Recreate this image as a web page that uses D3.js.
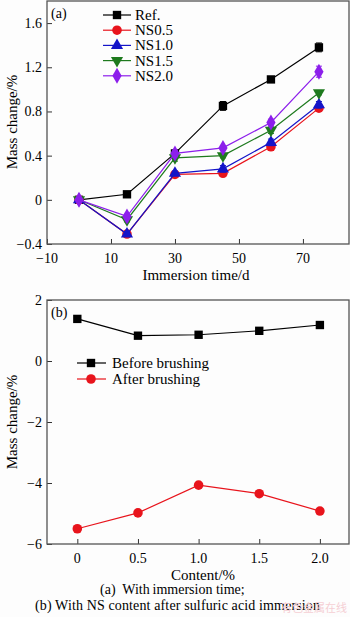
<!DOCTYPE html>
<html>
<head>
<meta charset="utf-8">
<script src="https://cdn.jsdelivr.net/npm/d3@7"></script>
<style>
  body { margin: 0; background: #fdfdfd; }
  svg { display: block; font-family: "Liberation Serif", "Times New Roman", serif; }
</style>
</head>
<body>
<div id="chart"></div>
<script>
/* two-panel mass change chart */

const width = 350, height = 617;

// panel (a) data
const days = [0, 15, 30, 45, 60, 75];
const seriesA = ["Ref.", "NS0.5", "NS1.0", "NS1.5", "NS2.0"];
const refVals = [0, 0.05, 0.42, 0.85, 1.09, 1.38];
const ns05Vals = [0, -0.31, 0.23, 0.24, 0.48, 0.83];
const ns10Vals = [0, -0.31, 0.24, 0.28, 0.52, 0.86];
const ns15Vals = [0, -0.18, 0.38, 0.40, 0.63, 0.97];
const ns20Vals = [0, -0.15, 0.42, 0.47, 0.70, 1.16];
const refErr = [0, 0.02, 0.03, 0.04, 0.02, 0.04];
const ns05Err = [0, 0.02, 0.02, 0.02, 0.03, 0.03];
const ns10Err = [0, 0.02, 0.02, 0.03, 0.03, 0.03];
const ns15Err = [0, 0.02, 0.03, 0.02, 0.03, 0.02];
const ns20Err = [0, 0.02, 0.03, 0.02, 0.03, 0.05];
const xTicksA = [-10, 10, 30, 50, 70];
const yTicksA = [-0.4, 0, 0.4, 0.8, 1.2, 1.6];

// panel (b) data
const contents = [0, 0.5, 1.0, 1.5, 2.0];
const seriesB = ["Before brushing", "After brushing"];
const beforeVals = [1.38, 0.83, 0.86, 0.99, 1.18];
const afterVals = [-5.5, -4.98, -4.07, -4.35, -4.92];
const xTicksB = [0, 0.5, 1.0, 1.5, 2.0];
const yTicksB = [-6, -4, -2, 0, 2];

const svg = d3.select("#chart")
  .append("svg")
  .attr("width", width)
  .attr("height", height);

// marker shapes
const sym = {
  square: d3.symbol().type(d3.symbolSquare).size(70),
  circle: d3.symbol().type(d3.symbolCircle).size(72),
  up: d3.symbol().type(d3.symbolTriangle).size(64),
  diamond: d3.symbol().type(d3.symbolDiamond).size(74)
};

function drawFrame(g, x, y, xTicks, yTicks, xFmt, yFmt) {
  const [x0, x1] = x.range(), [y0, y1] = y.range();
  g.append("g")
    .attr("transform", `translate(0,${y0})`)
    .call(d3.axisTop(x).tickValues(xTicks).tickSize(5).tickFormat(""))
    .call(a => a.select(".domain").remove())
    .call(a => a.selectAll("line").attr("stroke", "#333"));
  g.selectAll(".xl").data(xTicks).enter().append("text")
    .attr("x", d => x(d)).attr("y", y0 + 19)
    .attr("text-anchor", "middle").attr("font-size", 14)
    .text(xFmt);
  g.append("g")
    .attr("transform", `translate(${x0},0)`)
    .call(d3.axisRight(y).tickValues(yTicks).tickSize(5).tickFormat(""))
    .call(a => a.select(".domain").remove())
    .call(a => a.selectAll("line").attr("stroke", "#333"));
  g.selectAll(".yl").data(yTicks).enter().append("text")
    .attr("x", x0 - 5).attr("y", d => y(d) + 5)
    .attr("text-anchor", "end").attr("font-size", 14)
    .text(yFmt);
  g.append("rect")
    .attr("x", x0).attr("y", y1)
    .attr("width", x1 - x0).attr("height", y0 - y1)
    .attr("fill", "none").attr("stroke", "#555").attr("stroke-width", 1.3);
}

// ---------- panel (a)
const xA = d3.scaleLinear().domain([-10, 84.4]).range([47, 349]);
const yA = d3.scaleLinear().domain([-0.4, 1.8]).range([244, 1]);
const gA = svg.append("g");

const dataA = [
  { name: seriesA[0], vals: refVals, err: refErr, color: "#000000", shape: "square" },
  { name: seriesA[1], vals: ns05Vals, err: ns05Err, color: "#e8141c", shape: "circle" },
  { name: seriesA[2], vals: ns10Vals, err: ns10Err, color: "#1414c8", shape: "up" },
  { name: seriesA[3], vals: ns15Vals, err: ns15Err, color: "#1e7a1e", shape: "down" },
  { name: seriesA[4], vals: ns20Vals, err: ns20Err, color: "#8c1eeb", shape: "diamond" }
];

function marker(sel, shape) {
  if (shape === "down") sel.attr("d", sym.up).attr("transform", function() {
    return d3.select(this).attr("transform") + " rotate(180)";
  });
  else sel.attr("d", sym[shape]);
}

const lineA = d3.line().x((d, i) => xA(days[i])).y(d => yA(d));

dataA.forEach(s => {
  const g = gA.append("g");
  g.append("path").attr("d", lineA(s.vals))
    .attr("fill", "none").attr("stroke", s.color).attr("stroke-width", 1.2);
  s.vals.forEach((v, i) => {
    if (s.err[i] > 0) {
      const cx = xA(days[i]);
      g.append("path")
        .attr("d", `M${cx},${yA(v - s.err[i])}V${yA(v + s.err[i])}M${cx - 3},${yA(v - s.err[i])}H${cx + 3}M${cx - 3},${yA(v + s.err[i])}H${cx + 3}`)
        .attr("stroke", s.color).attr("stroke-width", 1).attr("fill", "none");
    }
  });
  g.selectAll(".m").data(s.vals).enter().append("path")
    .attr("transform", (d, i) => `translate(${xA(days[i])},${yA(d)})`)
    .attr("fill", s.color)
    .call(marker, s.shape);
});

drawFrame(gA, xA, yA, xTicksA, yTicksA, d => d < 0 ? "\u2212" + Math.abs(d) : d, d => d === 0 ? "0" : (d < 0 ? "\u2212" + Math.abs(d).toFixed(1) : d.toFixed(1)));

gA.append("text").attr("x", 51).attr("y", 18).attr("font-size", 14).text("(a)");

// legend (a)
dataA.forEach((s, i) => {
  const ly = 15 + i * 15.2;
  gA.append("line").attr("x1", 103).attr("x2", 131).attr("y1", ly).attr("y2", ly)
    .attr("stroke", s.color).attr("stroke-width", 1.2);
  gA.append("path").attr("transform", `translate(117,${ly})`)
    .attr("fill", s.color).call(marker, s.shape);
  gA.append("text").attr("x", 135).attr("y", ly + 5).attr("font-size", 15).text(s.name);
});

gA.append("text")
  .attr("transform", "translate(17,122) rotate(-90)")
  .attr("text-anchor", "middle").attr("font-size", 15)
  .text("Mass change/%");
gA.append("text")
  .attr("x", 196).attr("y", 280)
  .attr("text-anchor", "middle").attr("font-size", 15)
  .text("Immersion time/d");

// ---------- panel (b)
const xB = d3.scaleLinear().domain([-0.25, 2.24]).range([47, 349]);
const yB = d3.scaleLinear().domain([-6, 2]).range([544, 300]);
const gB = svg.append("g");

const dataB = [
  { name: seriesB[0], vals: beforeVals, color: "#000000", shape: "square" },
  { name: seriesB[1], vals: afterVals, color: "#e8141c", shape: "circle" }
];
const lineB = d3.line().x((d, i) => xB(contents[i])).y(d => yB(d));

dataB.forEach(s => {
  gB.append("path").attr("d", lineB(s.vals))
    .attr("fill", "none").attr("stroke", s.color).attr("stroke-width", 1.2);
  gB.selectAll(null).data(s.vals).enter().append("path")
    .attr("transform", (d, i) => `translate(${xB(contents[i])},${yB(d)})`)
    .attr("fill", s.color)
    .call(marker, s.shape);
});

drawFrame(gB, xB, yB, xTicksB, yTicksB, d => d === 0 ? "0" : d.toFixed(1), d => d < 0 ? "\u2212" + Math.abs(d) : d);

gB.append("text").attr("x", 51).attr("y", 317).attr("font-size", 14).text("(b)");

dataB.forEach((s, i) => {
  const ly = 363 + i * 16;
  gB.append("line").attr("x1", 77).attr("x2", 106).attr("y1", ly).attr("y2", ly)
    .attr("stroke", s.color).attr("stroke-width", 1.2);
  gB.append("path").attr("transform", `translate(91,${ly})`)
    .attr("fill", s.color).call(marker, s.shape);
  gB.append("text").attr("x", 112).attr("y", ly + 5).attr("font-size", 15).text(s.name);
});

gB.append("text")
  .attr("transform", "translate(17,422) rotate(-90)")
  .attr("text-anchor", "middle").attr("font-size", 15)
  .text("Mass change/%");
gB.append("text")
  .attr("x", 203).attr("y", 580)
  .attr("text-anchor", "middle").attr("font-size", 15)
  .text("Content/%");

// caption
svg.append("text").attr("x", 100).attr("y", 594)
  .attr("font-size", 14).attr("xml:space", "preserve")
  .text("(a)  With\u2009immersion time;");
svg.append("text").attr("x", 35).attr("y", 610)
  .attr("font-size", 14).attr("textLength", 285)
  .text("(b) With NS content after sulfuric acid immersion");
svg.append("text").attr("x", 347).attr("y", 612)
  .attr("text-anchor", "end").attr("font-size", 11)
  .attr("font-family", "Noto Sans CJK SC").attr("fill", "#f5cfd4")
  .text("有色金属在线");
</script>
</body>
</html>
